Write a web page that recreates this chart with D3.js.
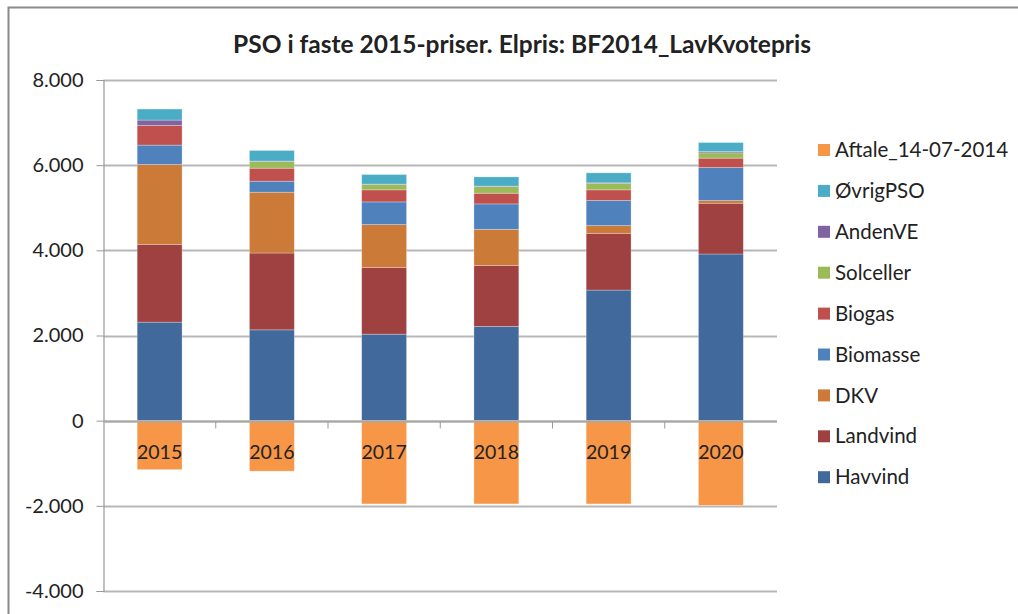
<!DOCTYPE html>
<html>
<head>
<meta charset="utf-8">
<script src="https://cdn.jsdelivr.net/npm/d3@7"></script>
<style>
  body { margin: 0; background: #fff; }
  text { font-family: Lato, "Open Sans", sans-serif; fill: #222; }
</style>
</head>
<body>
<div id="chart"></div>
<script>
// PSO stacked bars, fixed 2015 prices //
const years = ["2015", "2016", "2017", "2018", "2019", "2020"];

// stack order bottom -> top, Aftale goes below zero
const seriesNames = ["Havvind", "Landvind", "DKV", "Biomasse", "Biogas", "Solceller", "AndenVE", "ØvrigPSO", "Aftale_14-07-2014"];
const seriesColors = ["#41699b", "#9e4140", "#cc7a37", "#4f81bd", "#c0504d", "#9bbb59", "#8064a2", "#4bacc6", "#f79646"];

const havvind   = [2314, 2133, 2031, 2212, 3067, 3914];
const landvind  = [1827, 1804, 1569, 1435, 1333, 1192];
const dkv       = [1875, 1428, 1004,  847,  180,   63];
const biomasse  = [ 455,  259,  533,  596,  590,  776];
const biogas    = [ 462,  305,  283,  251,  250,  220];
const solceller = [   0,  157,  125,  157,  150,  125];
const andenVE   = [ 126,   10,   10,   10,   15,   30];
const ovrigPSO  = [ 259,  249,  225,  217,  235,  211];
const aftale    = [-1150, -1185, -1955, -1955, -1955, -1990];

const yTicks = [-4000, -2000, 0, 2000, 4000, 6000, 8000];

const width = 1018, height = 614;
const plot = { left: 103.5, right: 777, top: 80, bottom: 591 };

const svg = d3.select("#chart").append("svg")
  .attr("width", width)
  .attr("height", height);

// outer frame (only top and left edges show)
svg.append("path")
  .attr("d", `M8.5,${height} V7.5 H${width}`)
  .attr("fill", "none")
  .attr("stroke", "#8a8a8a")
  .attr("stroke-width", 2);

const x = d3.scaleBand()
  .domain(years)
  .range([plot.left, plot.right])
  .paddingInner(0.6)
  .paddingOuter(0.3);

const y = d3.scaleLinear()
  .domain([-4000, 8000])
  .range([plot.bottom, plot.top]);

// gridlines
svg.append("g")
  .selectAll("line")
  .data(yTicks)
  .join("line")
  .attr("x1", plot.left)
  .attr("x2", plot.right)
  .attr("y1", d => Math.round(y(d)) + 0.5)
  .attr("y2", d => Math.round(y(d)) + 0.5)
  .attr("stroke", "#b7b7b7")
  .attr("stroke-width", 2);

// danish number format with plain hyphen for negatives
const fmt = d => {
  if (d === 0) return "0";
  const s = d3.format(",")(Math.abs(d)).replace(/,/g, ".");
  return d < 0 ? "-" + s : s;
};

// y axis
const yAxis = svg.append("g")
  .attr("transform", `translate(${plot.left},0)`)
  .call(d3.axisLeft(y)
    .tickValues(yTicks)
    .tickSize(7)
    .tickPadding(13)
    .tickFormat(fmt));
yAxis.select(".domain").attr("stroke", "#999").attr("stroke-width", 1.2);
yAxis.selectAll(".tick line").attr("stroke", "#999");
yAxis.selectAll(".tick text")
  .style("font-size", "20px")
  .style("font-family", "Lato, sans-serif")
  .attr("fill", "#333");

// build stacked data
const valueArrays = [havvind, landvind, dkv, biomasse, biogas, solceller, andenVE, ovrigPSO, aftale];
const rows = years.map((yr, i) => {
  const r = { year: yr };
  seriesNames.forEach((s, j) => r[s] = valueArrays[j][i]);
  return r;
});

const stack = d3.stack()
  .keys(seriesNames)
  .offset(d3.stackOffsetDiverging);
const layers = stack(rows);

svg.append("g")
  .selectAll("g")
  .data(layers)
  .join("g")
  .attr("fill", (d, i) => seriesColors[i])
  .selectAll("rect")
  .data(d => d)
  .join("rect")
  .attr("x", d => x(d.data.year))
  .attr("width", x.bandwidth())
  .attr("y", d => y(Math.max(d[0], d[1])))
  .attr("height", d => Math.abs(y(d[0]) - y(d[1])))
  .attr("stroke", "rgba(255,255,255,0.35)")
  .attr("stroke-width", 0.8);

// zero axis line with category ticks
const zeroY = Math.round(y(0)) + 0.5;
svg.append("line")
  .attr("x1", plot.left).attr("x2", plot.right)
  .attr("y1", zeroY).attr("y2", zeroY)
  .attr("stroke", "#a8a8a8")
  .attr("stroke-width", 2);

const step = x.step();
svg.append("g")
  .selectAll("line")
  .data(years.slice(1))
  .join("line")
  .attr("x1", d => x(d) + x.bandwidth() / 2 - step / 2)
  .attr("x2", d => x(d) + x.bandwidth() / 2 - step / 2)
  .attr("y1", zeroY)
  .attr("y2", zeroY + 7)
  .attr("stroke", "#999");

// category labels sit over the negative bars
svg.append("g")
  .selectAll("text")
  .data(years)
  .join("text")
  .attr("x", d => x(d) + x.bandwidth() / 2)
  .attr("y", zeroY + 37)
  .attr("text-anchor", "middle")
  .style("font-size", "19.5px")
  .text(d => d);

// title
svg.append("text")
  .attr("x", 522)
  .attr("y", 53)
  .attr("text-anchor", "middle")
  .style("font-size", "24.5px")
  .style("font-weight", "bold")
  .attr("fill", "#111")
  .text("PSO i faste 2015-priser. Elpris: BF2014_LavKvotepris");

// legend, top to bottom reverses the stack
const legendItems = seriesNames.map((s, i) => ({ name: s, color: seriesColors[i] })).reverse();
const legend = svg.append("g")
  .selectAll("g")
  .data(legendItems)
  .join("g")
  .attr("transform", (d, i) => `translate(818,${150 + i * 40.9})`);

legend.append("rect")
  .attr("x", 0).attr("y", -6)
  .attr("width", 12).attr("height", 12)
  .attr("fill", d => d.color);

legend.append("text")
  .attr("x", 17)
  .attr("y", 0)
  .attr("dy", "0.35em")
  .style("font-size", "20.5px")
  .text(d => d.name);
</script>
</body>
</html>
